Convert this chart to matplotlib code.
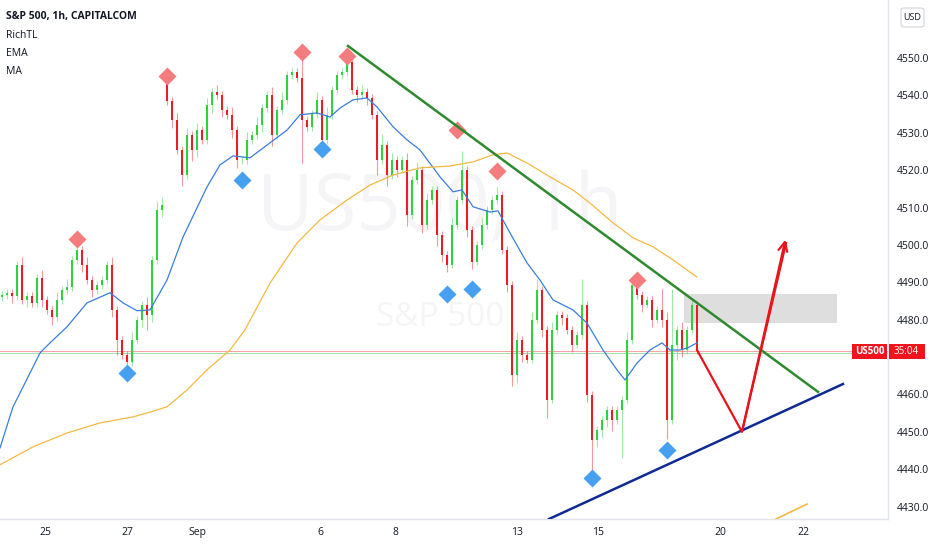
import numpy as np
import matplotlib
matplotlib.use("Agg")
import matplotlib.pyplot as plt
from matplotlib.patches import Rectangle, FancyBboxPatch

plt.rcParams['font.family'] = ['Open Sans', 'DejaVu Sans']

# hourly closes
closes = [4486.6, 4487.2, 4486.4, 4494.7, 4485.3, 4486.4, 4484.5, 4491.2, 4485.3, 4482.6,
          4480.7, 4485.3, 4488.0, 4488.8, 4496.0, 4498.7, 4494.7, 4490.6, 4488.0, 4489.3,
          4490.6, 4494.7, 4482.6, 4474.6, 4470.6, 4468.7, 4474.6, 4480.0, 4484.0, 4481.3,
          4496.0, 4509.4, 4510.7, 4538.5, 4533.4, 4525.4, 4518.7, 4529.4, 4525.4, 4530.7,
          4528.1, 4537.4, 4540.9, 4540.1, 4536.1, 4534.8, 4530.7, 4522.7, 4522.7, 4528.1,
          4529.4, 4532.1, 4536.6, 4540.1, 4529.4, 4536.1, 4538.8, 4545.5, 4546.3, 4544.7,
          4533.4, 4531.5, 4535.0, 4538.8, 4528.1, 4534.8, 4541.4, 4545.5, 4546.3, 4548.9,
          4541.4, 4540.1, 4540.9, 4539.3, 4534.8, 4522.7, 4526.7, 4518.7, 4522.7, 4520.1,
          4522.7, 4508.0, 4517.4, 4520.1, 4505.3, 4512.0, 4514.7, 4502.7, 4497.3, 4494.7,
          4505.3, 4512.0, 4520.1, 4504.0, 4495.5, 4500.0, 4505.3, 4509.4, 4512.0, 4513.4,
          4498.7, 4489.3, 4465.2, 4474.6, 4470.6, 4469.3, 4480.0, 4488.0, 4477.3, 4458.6,
          4477.3, 4481.3, 4480.5, 4477.3, 4473.3, 4475.9, 4484.0, 4459.9, 4447.9, 4450.5,
          4453.2, 4455.9, 4453.2, 4455.9, 4458.6, 4474.6, 4489.3, 4486.6, 4484.0, 4485.3,
          4480.0, 4482.6, 4480.0, 4453.2, 4473.3, 4477.3, 4471.9, 4477.3, 4484.0, 4471.9]
first_open = 4486.0
gap_bar, gap_open = 33, 4543.3

wick_up = [1, 1, 1, 1, 2, 1, 1, 1, 2, 1,
           1, 2, 1, 2, 1, 2, 1, 2, 1, 1,
           1, 1, 2, 1, 1, 1, 2, 1, 1, 2,
           1, 2, 2, 1, 1, 2, 1, 2, 1, 2,
           1, 2, 1, 2, 1, 1, 2, 1, 1, 2,
           1, 2, 1, 1, 2, 1, 2, 1, 1, 1,
           5, 1, 1, 2, 1, 2, 1, 1, 1, 1,
           1, 1, 2, 1, 1, 1, 3, 1, 2, 1,
           1, 2, 1, 2, 1, 2, 1, 1, 1, 1,
           2, 1, 5, 1, 1, 1, 2, 1, 1, 2,
           1, 1, 1, 2, 1, 1, 2, 3, 1, 1,
           2, 1, 1, 1, 1, 1, 7, 1, 1, 1,
           1, 1, 1, 1, 1, 2, 1, 2, 1, 1,
           1, 1, 5.5, 2, 15, 1, 2, 1, 1.5, 1]
wick_dn = [1, 1, 2, 1, 1, 2, 1, 1, 2, 1,
           2, 1, 1, 1, 1, 1, 2, 1, 2, 1,
           1, 1, 2, 4, 1, 2, 1, 1, 2, 4,
           2, 1, 2, 1, 2, 1, 3, 1, 3, 2,
           1, 1, 2, 1, 2, 1, 2, 2, 1, 1,
           1, 1, 2, 1, 3, 1, 1, 1, 1, 1,
           11.5, 1, 1, 1, 2, 1, 1, 1, 1, 1,
           1, 2, 1, 2, 1, 4, 1, 3, 1, 2,
           1, 3, 1, 1, 2, 1, 1, 3, 2, 2,
           1, 1, 1, 2, 2, 1, 1, 1, 1, 1,
           1, 2, 3, 2, 2, 1, 1, 1, 2, 5,
           1, 1, 2, 1, 2, 1, 1, 2, 8, 2,
           2, 2, 3, 1, 13, 1, 1, 1, 2, 1,
           2, 1, 2, 5, 1, 4, 2, 1, 1, 1]

# RichTL pivot markers (bar, price)
pivot_hi_bar = [15, 33, 60, 69, 91, 99, 127]
pivot_hi_px = [4501.6, 4545.2, 4551.7, 4550.5, 4530.7, 4519.9, 4490.6]
pivot_lo_bar = [25, 48, 64, 89, 94, 118, 133]
pivot_lo_px = [4465.8, 4517.4, 4525.6, 4486.9, 4488.2, 4437.7, 4445.2]

# EMA line samples (bar, value)
ema_bar = [-0.4, 2.2, 4.2, 7.6, 9.6, 13, 17, 21.6, 24.2, 27, 29.6, 33, 36.2, 41, 43.6,
           46.2, 49.6, 53.6, 57, 59.6, 63, 65.6, 67.6, 70.2, 73, 75, 78.2, 81, 83.6,
           87.6, 90.2, 92, 94.2, 97.6, 99.2, 101.6, 105, 107.6, 110.2, 114.2, 117,
           120.2, 123, 124.6, 127, 129.6, 132, 133.6, 135.6, 137.2, 139]
ema_val = [4445.7, 4456.7, 4462.0, 4471.1, 4473.8, 4478.1, 4484.5, 4487.2, 4484.5, 4482.4,
           4482.6, 4490.6, 4502.1, 4515.5, 4521.4, 4523.8, 4523.3, 4527.3, 4530.7, 4534.8,
           4535.3, 4534.2, 4536.6, 4538.8, 4539.3, 4536.9, 4531.6, 4528.1, 4525.4, 4518.2,
           4514.2, 4514.7, 4510.2, 4508.8, 4509.1, 4503.2, 4495.2, 4490.6, 4485.3, 4482.6,
           4479.1, 4471.9, 4466.6, 4463.9, 4468.4, 4471.9, 4473.8, 4471.9, 4471.9, 4472.5,
           4473.8]

# MA line samples (bar, value)
ma_bar = [-0.4, 6.2, 13, 19.6, 26.2, 29.6, 33, 37, 41, 45.6, 48.6, 53.6, 59, 63.6, 69,
          73.6, 78.2, 83.6, 89.6, 94.2, 98.2, 101, 105, 109.6, 114.2, 117.6, 122.2,
          126.2, 130.2, 134.2, 137, 139]
ma_val = [4441.2, 4446.0, 4449.7, 4452.4, 4454.0, 4455.3, 4456.7, 4461.2, 4466.6, 4471.9,
          4477.3, 4489.8, 4500.5, 4506.7, 4512.0, 4516.0, 4518.7, 4520.6, 4521.1, 4522.2,
          4524.1, 4524.6, 4521.9, 4518.2, 4514.7, 4511.2, 4505.9, 4501.9, 4499.5, 4496.0,
          4493.3, 4491.4]
ma_tail_bar = [154.8, 161]
ma_tail_val = [4426.7, 4430.7]

# drawings
res_bar = [69.2, 163.2]
res_val = [4553.2, 4460.7]
sup_bar = [109.4, 168.2]
sup_val = [4426.7, 4462.8]
proj_bar = [139, 148, 156.8]
proj_val = [4471.9, 4450.0, 4500.5]
zone_bar = (136.4, 167.0)
zone_val = (4479.1, 4486.9)
last_px = 4471.7
prev_px = 4471.0

date_labels = ['25', '27', 'Sep', '6', '8', '13', '15', '20', '22']
date_pos = [8.6, 25, 39, 63.6, 78.6, 103, 119.2, 143.6, 160.2]
price_ticks = [4430, 4440, 4450, 4460, 4480, 4490, 4500, 4510, 4520, 4530, 4540, 4550]

W, H = 932, 550
fig = plt.figure(figsize=(W / 100, H / 100), dpi=100)
ax = fig.add_axes([0, 31 / H, 888 / W, 519 / H])
ax.set_xlim(-0.4, 177.2)
ax.set_ylim(4426.7, 4565.5)

txtc = '#131722'
up_c, dn_c = '#2ed23a', '#ee1c22'

# watermark
ax.text(87.6, 4509.4, 'US500, 1h', fontsize=56, color='#f5f5f7', ha='center', va='center', zorder=0)
ax.text(87.6, 4480.5, 'S&P 500', fontsize=24, color='#f5f5f7', ha='center', va='center', zorder=0)

o = np.array([first_open] + closes[:-1])
o[gap_bar] = gap_open
c = np.array(closes)
hi = np.maximum(o, c) + np.array(wick_up)
lo = np.minimum(o, c) - np.array(wick_dn)
x = np.arange(len(c))
col = np.where(c >= o, up_c, dn_c)

ax.axhline(last_px, color='#f7a1a6', lw=0.7, zorder=1)
ax.axhline(prev_px, color='#a8dca8', lw=0.7, zorder=1)

ax.vlines(x, lo, hi, colors=col, lw=0.8, alpha=0.45, zorder=2)
ax.bar(x, c - o, bottom=o, width=0.52, color=col, lw=0, zorder=3)

ax.plot(ema_bar, ema_val, color='#3b7ddd', lw=0.9, zorder=4)
ax.plot(ma_bar, ma_val, color='#f5b942', lw=0.9, zorder=4)
ax.plot(ma_tail_bar, ma_tail_val, color='#f5b942', lw=1.2, zorder=4)

ax.plot(pivot_hi_bar, pivot_hi_px, 'D', ms=9.5, color='#f47c7e', mec='none', zorder=5)
ax.plot(pivot_lo_bar, pivot_lo_px, 'D', ms=9.5, color='#47a0ef', mec='none', zorder=5)

ax.add_patch(Rectangle((zone_bar[0], zone_val[0]), zone_bar[1] - zone_bar[0],
                       zone_val[1] - zone_val[0], color='#d6d6d6', alpha=0.8, lw=0, zorder=1))
ax.plot(res_bar, res_val, color='#2f8a2f', lw=1.8, zorder=6)
ax.plot(sup_bar, sup_val, color='#0f2a94', lw=1.8, zorder=6)
ax.plot(proj_bar, proj_val, color='#e8141c', lw=1.6, zorder=6)
ax.annotate('', xy=(proj_bar[2], proj_val[2] + 1.6), xytext=(proj_bar[1], proj_val[1]),
            arrowprops=dict(arrowstyle='->', color='#e8141c', lw=1.6, mutation_scale=16),
            zorder=6)

for s in ['top', 'left']:
    ax.spines[s].set_visible(False)
for s in ['right', 'bottom']:
    ax.spines[s].set_color('#e0e3eb')
    ax.spines[s].set_linewidth(1)
ax.yaxis.tick_right()
ax.set_yticks(price_ticks)
ax.set_yticklabels([f'{p:.1f}' for p in price_ticks])
ax.set_xticks(date_pos)
ax.set_xticklabels(date_labels)
ax.tick_params(axis='both', length=0, labelsize=7.5, colors=txtc)
ax.tick_params(axis='y', pad=6.5)
ax.tick_params(axis='x', pad=6)
for t in ax.get_yticklabels():
    t.set_horizontalalignment('left')

# price label on the axis
ypx = 1 - 351.5 / H
fig.patches.append(Rectangle((852 / W, ypx - 7.5 / H), 35 / W, 15 / H, transform=fig.transFigure,
                             color='#f0141e', lw=0, zorder=10))
fig.patches.append(Rectangle((888.5 / W, ypx - 7.5 / H), 36 / W, 15 / H, transform=fig.transFigure,
                             color='#f0141e', lw=0, zorder=10))
fig.text(869.5 / W, ypx, 'US500', color='white', fontsize=7, weight='bold', ha='center', va='center', zorder=11)
fig.text(906.5 / W, ypx, '35:04', color='white', fontsize=7, ha='center', va='center', zorder=11)

# currency button
fig.patches.append(FancyBboxPatch((901 / W, 1 - 27 / H), 23 / W, 19 / H, transform=fig.transFigure,
                                  boxstyle='round,pad=0,rounding_size=0.004', fc='white',
                                  ec='#d1d4dc', lw=0.8, zorder=10))
fig.text(912.5 / W, 1 - 17 / H, 'USD', color=txtc, fontsize=6.5, ha='center', va='center', zorder=11)

# legend texts
fig.text(6 / W, 1 - 17 / H, 'S&P 500, 1h, CAPITALCOM', color=txtc, fontsize=7.5, weight='bold', va='center')
for k, name in enumerate(['RichTL', 'EMA', 'MA']):
    fig.text(6 / W, 1 - (35 + 18.5 * k) / H, name, color=txtc, fontsize=7.5, va='center')

fig.savefig('out.png', dpi=100)
